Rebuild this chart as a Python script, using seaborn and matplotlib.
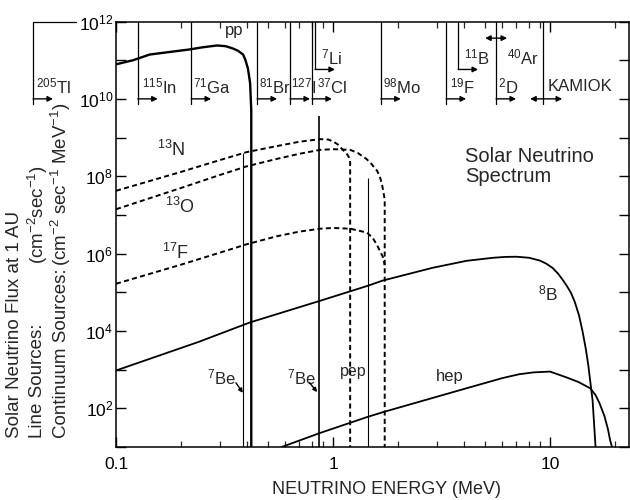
import numpy as np
import pandas as pd
import matplotlib
matplotlib.use("Agg")
import matplotlib.pyplot as plt
import seaborn as sns

# ---------------- data ----------------
# continuum spectra: energy (MeV) and flux (cm^-2 s^-1 MeV^-1)
pp_E = [0.1, 0.12, 0.143, 0.219, 0.25, 0.292, 0.32, 0.346, 0.365, 0.385, 0.395, 0.405,
        0.41, 0.415, 0.42, 0.42]
pp_flux = [7.8e10, 1.0e11, 1.4e11, 1.9e11, 2.15e11, 2.4e11, 2.3e11, 2.0e11, 1.75e11,
           1.4e11, 1.0e11, 6.2e10, 4.0e10, 2.5e10, 5e9, 10]

n13_E = [0.1, 0.2, 0.3, 0.4, 0.55, 0.7, 0.87, 0.95, 1.0, 1.05, 1.11, 1.15, 1.18, 1.199,
         1.199]
n13_flux = [4.2e7, 1.3e8, 2.6e8, 4.2e8, 6.0e8, 7.8e8, 9.1e8, 8.9e8, 7.9e8, 6.7e8, 4.8e8,
            4.0e8, 3.2e8, 2.5e8, 10]

o15_E = [0.1, 0.2, 0.3, 0.4, 0.55, 0.7, 0.87, 1.0, 1.2, 1.3, 1.43, 1.5, 1.6, 1.65, 1.68,
         1.73, 1.73]
o15_flux = [1.4e7, 5.0e7, 1.07e8, 1.8e8, 2.8e8, 3.8e8, 4.8e8, 5.0e8, 4.8e8, 4.0e8,
            2.75e8, 2.1e8, 1.35e8, 9.0e7, 6.3e7, 2.5e7, 10]

f17_E = [0.1, 0.2, 0.3, 0.4, 0.55, 0.7, 0.87, 1.0, 1.2, 1.43, 1.52, 1.6, 1.7, 1.73]
f17_flux = [1.66e5, 5.2e5, 1.05e6, 1.74e6, 2.8e6, 3.7e6, 4.4e6, 4.6e6, 4.4e6, 3.5e6,
            2.6e6, 1.6e6, 8.0e5, 5.0e5]

b8_E = [0.1, 0.24, 0.414, 0.87, 1.45, 1.69, 2.88, 4.12, 5.47, 6.2, 7.0, 8.0, 8.97, 9.6,
        10.3, 10.9, 11.5, 12.0, 12.5, 13.0, 13.6, 14.1, 14.6, 15.0, 15.3, 15.7, 16.2]
b8_flux = [9.5e2, 5.2e3, 1.66e4, 6.0e4, 1.48e5, 2.0e5, 4.3e5, 6.5e5, 7.8e5, 8.2e5, 8.3e5,
           7.8e5, 6.6e5, 5.5e5, 4.2e5, 3.0e5, 2.0e5, 1.4e5, 9.5e4, 5.6e4, 2.5e4, 1.0e4,
           3.5e3, 1.3e3, 5.2e2, 1.6e2, 10]

hep_E = [0.58, 0.87, 1.43, 1.69, 4.12, 6.0, 7.2, 8.4, 10.0, 11.9, 13.5, 15.3, 16.2, 16.9,
         17.8, 18.5, 18.9, 19.3]
hep_flux = [10, 23, 59, 79, 330, 600, 760, 850, 890, 630, 480, 330, 220, 135, 63, 28, 15,
            10]

# line sources: energy (MeV) and flux (cm^-2 s^-1)
line_E = [0.384, 0.862, 1.442]
line_flux = [4.0e8, 3.5e9, 9.0e7]
line_width = [0.8, 1.2, 0.8]

# detector thresholds (MeV)
det_labels = ["$^{205}$Tl", "$^{115}$In", "$^{71}$Ga", "$^{81}$Br", "$^{127}$I",
              "$^{37}$Cl", "$^{98}$Mo", "$^{19}$F", "$^{2}$D"]
det_E = [0.0415, 0.126, 0.222, 0.447, 0.634, 0.80, 1.66, 3.32, 5.64]
det_pad = [2, 3, 1, 1, 0.5, 3.5, 1.5, 3, 1.5]
upper_labels = ["$^{7}$Li", "$^{11}$B"]
upper_E = [0.826, 3.77]
ar_label, ar_E = "$^{40}$Ar", 5.64
kam_label, kam_E = "KAMIOK", 9.29

x_ticks = [0.1, 1, 10]
x_ticklabels = ["0.1", "1", "10"]
y_ticks = [1e1, 1e2, 1e3, 1e4, 1e5, 1e6, 1e7, 1e8, 1e9, 1e10, 1e11, 1e12]
y_ticklabels = ["", "$10^{2}$", "", "$10^{4}$", "", "$10^{6}$", "", "$10^{8}$", "",
                "$10^{10}$", "", "$10^{12}$"]

# ---------------- style ----------------
sns.set_theme(style="ticks")
plt.rcParams["font.family"] = ["Liberation Sans", "DejaVu Sans"]
plt.rcParams["mathtext.fontset"] = "custom"
plt.rcParams["mathtext.rm"] = "Liberation Sans"
plt.rcParams["mathtext.it"] = "Liberation Sans:italic"
plt.rcParams["mathtext.bf"] = "Liberation Sans:bold"
plt.rcParams["mathtext.default"] = "regular"
plt.rcParams["axes.linewidth"] = 1.1

W, H = 630, 500
fig = plt.figure(figsize=(W / 100, H / 100), dpi=100)
ax = fig.add_axes([116 / W, 1 - 447 / H, (629 - 116) / W, (447 - 21.5) / H])
ax.set_xscale("log")
ax.set_yscale("log")
ax.set_xlim(0.1, 23.1)
ax.set_ylim(10, 1e12)

K = "black"
common = dict(color=K, sort=False, estimator=None, legend=False)
dashed_style = (0, (2.6, 1.7))

curves = [
    (pp_E, pp_flux, "-", 1.7),
    (b8_E, b8_flux, "-", 1.3),
    (hep_E, hep_flux, "-", 1.3),
    (n13_E, n13_flux, dashed_style, 1.4),
    (o15_E, o15_flux, dashed_style, 1.4),
    (f17_E, f17_flux, dashed_style, 1.4),
]
for E, F, ls, lw in curves:
    df = pd.DataFrame({"E": E, "flux": F})
    sns.lineplot(data=df, x="E", y="flux", ax=ax, linestyle=ls, linewidth=lw, **common)

for E, F, lw in zip(line_E, line_flux, line_width):
    ax.vlines(E, 10, F, color=K, lw=lw)

# ---------------- axes / ticks ----------------
ax.set_xticks(x_ticks)
ax.set_xticklabels(x_ticklabels)
ax.xaxis.set_minor_locator(matplotlib.ticker.LogLocator(base=10, subs=np.arange(2, 10)))
ax.xaxis.set_minor_formatter(matplotlib.ticker.NullFormatter())
ax.set_yticks(y_ticks)
ax.set_yticklabels(y_ticklabels)
ax.yaxis.set_minor_locator(matplotlib.ticker.NullLocator())
ax.tick_params(axis="both", which="major", direction="in", top=True, right=True,
               length=7, width=1, labelsize=12.5, colors=K)
ax.tick_params(axis="both", which="minor", direction="in", top=True, right=True,
               length=4.5, width=0.9)
ax.tick_params(axis="x", which="major", pad=7)
ax.tick_params(axis="y", which="major", pad=2)
for s in ax.spines.values():
    s.set_color(K)
ax.set_xlabel("")
ax.set_ylabel("")

# ---------------- detector thresholds ----------------
TOP, LOW, ARR_Y, LAB_Y = 1e12, 10 ** 9.86, 1e10, 10 ** 10.32
UP_ARR_Y, UP_LAB_Y, AR_Y = 10 ** 10.76, 10 ** 11.08, 10 ** 11.57
ARR = 1.236
tl_kw = dict(color=K, lw=0.9, clip_on=False)
arr_kw = dict(arrowstyle="-|>", color=K, lw=1.0, mutation_scale=8, shrinkA=0, shrinkB=0)
dbl_kw = dict(arrowstyle="<|-|>", color=K, lw=1.0, mutation_scale=8, shrinkA=0, shrinkB=0)
lab_kw = dict(textcoords="offset points", va="center", ha="left", fontsize=12,
              annotation_clip=False)

for lab, E, pad in zip(det_labels, det_E, det_pad):
    ax.plot([E, E], [TOP, LOW], **tl_kw)
    ax.annotate("", xy=(E * ARR, ARR_Y), xytext=(E, ARR_Y), arrowprops=arr_kw,
                annotation_clip=False)
    ax.annotate(lab, xy=(E, LAB_Y), xytext=(pad, 0), **lab_kw)
# outer box top for Tl
ax.plot([det_E[0], 0.0655], [TOP, TOP], **tl_kw)

for lab, E in zip(upper_labels, upper_E):
    ax.plot([E, E], [TOP, UP_ARR_Y], **tl_kw)
    ax.annotate("", xy=(E * ARR, UP_ARR_Y), xytext=(E, UP_ARR_Y), arrowprops=arr_kw)
    ax.annotate(lab, xy=(E, UP_LAB_Y), xytext=(4, 0), **lab_kw)

ax.annotate("", xy=(ar_E * 1.124, AR_Y), xytext=(ar_E / 1.124, AR_Y), arrowprops=dbl_kw)
ax.annotate(ar_label, xy=(ar_E * 1.124, UP_LAB_Y), xytext=(0, 0), **lab_kw)

ax.plot([kam_E, kam_E], [TOP, LOW], **tl_kw)
ax.annotate("", xy=(kam_E * 1.224, ARR_Y), xytext=(kam_E / 1.148, ARR_Y), arrowprops=dbl_kw)
ax.annotate(kam_label, xy=(kam_E, LAB_Y), xytext=(3, 0), **lab_kw)

# ---------------- curve labels ----------------
ax.text(0.35, 10 ** 11.78, "pp", fontsize=12, ha="center", va="center")
ax.text(0.1545, 10 ** 8.68, "$^{13}$N", fontsize=13, ha="left", va="center")
ax.text(0.168, 10 ** 7.21, "$^{13}$O", fontsize=13, ha="left", va="center")
ax.text(0.163, 10 ** 6.01, "$^{17}$F", fontsize=13, ha="left", va="center")
ax.text(1.236, 10 ** 2.94, "pep", fontsize=11.5, ha="center", va="center")
ax.text(3.46, 10 ** 2.81, "hep", fontsize=12, ha="center", va="center")
ax.text(8.81, 10 ** 4.98, "$^{8}$B", fontsize=12.5, ha="left", va="center")
ax.text(0.356, 10 ** 2.79, "$^{7}$Be", fontsize=12, ha="right", va="center")
ax.text(0.835, 10 ** 2.79, "$^{7}$Be", fontsize=12, ha="right", va="center")
be_arrow = dict(arrowstyle="-|>", color=K, lw=1.0, mutation_scale=6, shrinkA=0, shrinkB=0)
ax.annotate("", xy=(0.384, 10 ** 2.40), xytext=(0.357, 10 ** 2.66), arrowprops=be_arrow)
ax.annotate("", xy=(0.845, 10 ** 2.42), xytext=(0.78, 10 ** 2.66), arrowprops=be_arrow)
ax.text(4.05, 10 ** 8.76, "Solar Neutrino\nSpectrum", fontsize=14.5, ha="left", va="top",
        linespacing=1.05)

# ---------------- axis titles ----------------
fig.text(386 / W, 1 - 489 / H, "NEUTRINO ENERGY (MeV)", ha="center", va="center",
         fontsize=13)
ylab = dict(rotation=90, ha="center", va="bottom", fontsize=13.5)
fig.text(15 / W, 1 - 438 / H, "Solar Neutrino Flux at 1 AU", **ylab)
fig.text(38 / W, 1 - 438 / H, "Line Sources:", **ylab)
fig.text(38 / W, 1 - 264 / H, "(cm$^{-2}$sec$^{-1}$)", **ylab)
fig.text(61 / W, 1 - 438 / H, "Continuum Sources:", **ylab)
fig.text(61 / W, 1 - 266 / H, "(cm$^{-2}$ sec$^{-1}$ MeV$^{-1}$)", **ylab)

fig.savefig("out.png", dpi=100, facecolor="white")
